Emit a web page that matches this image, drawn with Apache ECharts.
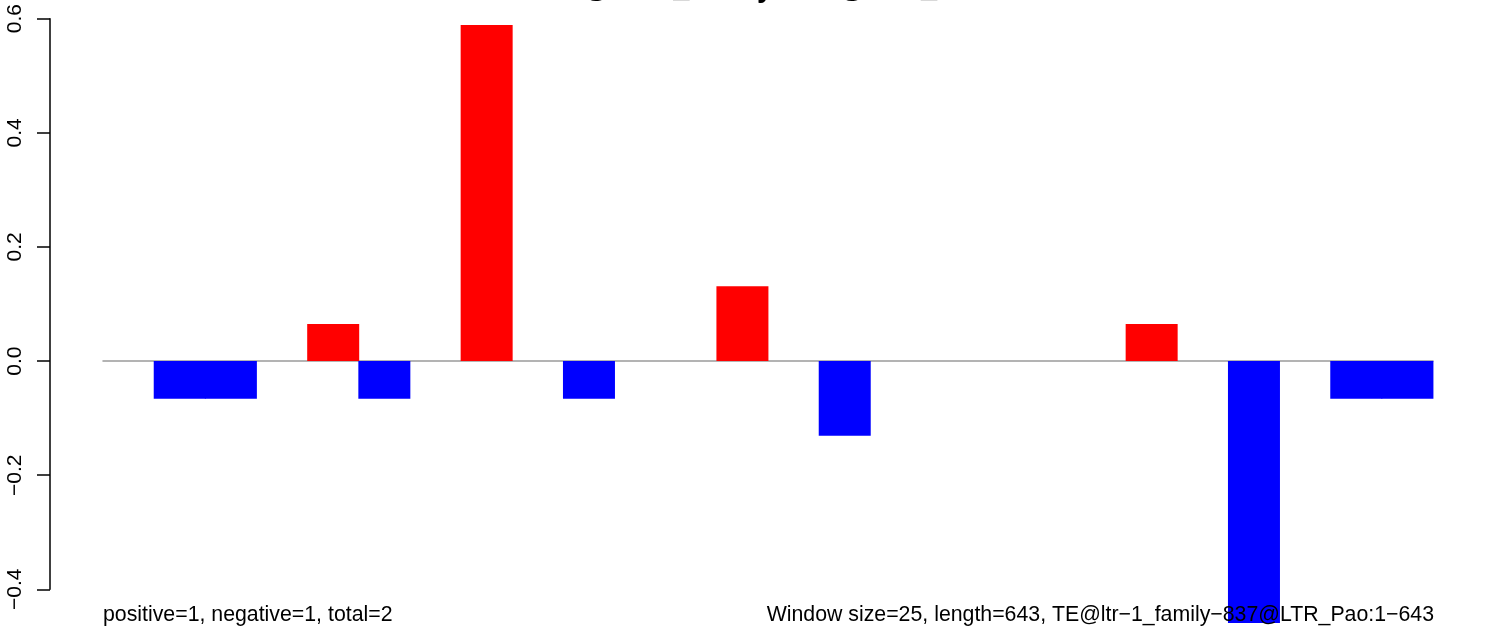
<!DOCTYPE html>
<html>
<head>
<meta charset="utf-8">
<script src="https://cdn.jsdelivr.net/npm/echarts@6/dist/echarts.min.js"></script>
<style>
html,body{margin:0;padding:0;background:#fff;}
#chart{width:1504px;height:627px;}
</style>
</head>
<body>
<div id="chart"></div>
<script>
// ---- data ----
const titleText = "TE@ltr\u22121_family\u2212837@LTR_Pao";
const categories = ["1","2","3","4","5","6","7","8","9","10","11","12","13","14","15","16","17","18","19","20","21","22","23","24","25","26"];
const values = [0, -0.066, -0.066, 0, 0.065, -0.066, 0, 0.589, 0, -0.066, 0, 0, 0.131, 0, -0.131, 0, 0, 0, 0, 0, 0.065, 0, -0.459, 0, -0.066, -0.066];
const yTicks = [-0.4, -0.2, 0.0, 0.2, 0.4, 0.6];
const leftNote = "positive=1, negative=1, total=2";
const rightNote = "Window size=25, length=643, TE@ltr\u22121_family\u2212837@LTR_Pao:1\u2212643";

const FONT = '"Liberation Sans", Arial, Helvetica, sans-serif';
const chart = echarts.init(document.getElementById('chart'), null, {renderer: 'canvas'});

const option = {
  animation: false,
  backgroundColor: '#ffffff',
  grid: {left: 103, right: 71, top: 18.7, bottom: 37.7, containLabel: false},
  xAxis: {
    type: 'category',
    data: categories,
    boundaryGap: true,
    axisLine: {show: true, onZero: true, lineStyle: {color: '#9a9a9a', width: 1.5}},
    axisTick: {show: false},
    axisLabel: {show: false},
    splitLine: {show: false}
  },
  yAxis: {
    type: 'value',
    min: yTicks[0],
    max: yTicks[yTicks.length - 1],
    interval: 0.2,
    offset: 53,
    axisLine: {show: true, lineStyle: {color: '#000', width: 1.5}},
    axisTick: {show: true, inside: false, length: 13, lineStyle: {color: '#000', width: 1.5}},
    splitLine: {show: false},
    axisLabel: {
      show: true,
      rotate: 90,
      margin: 24,
      fontSize: 21,
      fontFamily: FONT,
      color: '#000',
      formatter: function (v) {
        const s = Math.abs(v).toFixed(1);
        return (v < -1e-9 ? '\u2212' : '') + s;
      }
    }
  },
  series: [{
    type: 'bar',
    data: values.map(v => {
      const c = v >= 0 ? '#FF0000' : '#0000FF';
      return {value: v, itemStyle: {color: c, opacity: v === 0 ? 0 : 1}};
    }),
    barWidth: 52,
    clip: false,
    silent: true
  }],
  graphic: [
    {
      type: 'text', x: 768, y: -11.2, z: 100,
      style: {text: titleText, font: 'bold 29px ' + FONT, fill: '#000', textAlign: 'center', textVerticalAlign: 'middle'}
    },
    {
      type: 'text', x: 103, y: 615, z: 100,
      style: {text: leftNote, font: '21.3px ' + FONT, fill: '#000', textAlign: 'left', textVerticalAlign: 'middle'}
    },
    {
      type: 'text', x: 1434, y: 615, z: 100,
      style: {text: rightNote, font: '21.3px ' + FONT, fill: '#000', textAlign: 'right', textVerticalAlign: 'middle'}
    }
  ]
};
chart.setOption(option);
</script>
</body>
</html>
